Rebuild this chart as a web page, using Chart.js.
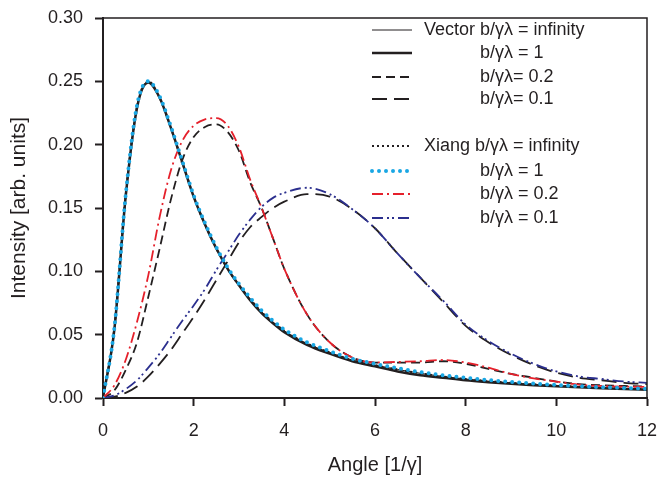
<!DOCTYPE html>
<html>
<head>
<meta charset="utf-8">
<script src="https://cdn.jsdelivr.net/npm/chart.js@4.4.0/dist/chart.umd.min.js"></script>
<style>
  html, body { margin: 0; padding: 0; background: #fff; }
  #wrap { width: 657px; height: 481px; }
</style>
</head>
<body>
<div id="wrap"><canvas id="chart" width="657" height="481"></canvas></div>
<script>
// angle in units of 1/gamma
const angle = [0, 0.25, 0.5, 0.75, 1, 1.25, 1.5, 1.75, 2, 2.25, 2.5, 2.75, 3, 3.25, 3.5, 3.75, 4,
  4.5, 5, 5.5, 6, 6.5, 7, 7.5, 8, 8.5, 9, 9.5, 10, 10.5, 11, 11.5, 12];

const vectorInf = [0, 0.055, 0.160, 0.230, 0.250, 0.237, 0.213, 0.186, 0.159, 0.137, 0.118, 0.102, 0.089, 0.078, 0.068, 0.060, 0.053,
  0.043, 0.036, 0.030, 0.026, 0.0225, 0.0195, 0.017, 0.015, 0.0133, 0.012, 0.0108, 0.0097, 0.0088, 0.008, 0.0074, 0.0068];
const vectorB1 = [0, 0.054, 0.159, 0.229, 0.249, 0.237, 0.213, 0.186, 0.159, 0.137, 0.118, 0.102, 0.089, 0.077, 0.067, 0.059, 0.052,
  0.042, 0.035, 0.029, 0.025, 0.021, 0.018, 0.016, 0.014, 0.0125, 0.0112, 0.0101, 0.0092, 0.0084, 0.0077, 0.0071, 0.0066];
const vector02 = [0, 0.006, 0.022, 0.044, 0.080, 0.118, 0.157, 0.188, 0.206, 0.214, 0.216, 0.210, 0.195, 0.170, 0.150, 0.126, 0.102,
  0.066, 0.044, 0.032, 0.028, 0.028, 0.028, 0.029, 0.027, 0.023, 0.019, 0.016, 0.013, 0.011, 0.010, 0.0095, 0.009];
const vector01 = [0, 0.001, 0.004, 0.009, 0.017, 0.027, 0.038, 0.051, 0.064, 0.078, 0.093, 0.108, 0.123, 0.135, 0.143, 0.150, 0.155,
  0.161, 0.159, 0.149, 0.134, 0.114, 0.095, 0.076, 0.057, 0.044, 0.034, 0.026, 0.020, 0.016, 0.014, 0.012, 0.011];

const xiangInf = [0, 0.055, 0.160, 0.230, 0.250, 0.237, 0.213, 0.186, 0.159, 0.137, 0.118, 0.102, 0.089, 0.078, 0.068, 0.060, 0.053,
  0.043, 0.036, 0.030, 0.026, 0.0225, 0.0195, 0.017, 0.015, 0.0134, 0.012, 0.0108, 0.0098, 0.0089, 0.0081, 0.0075, 0.0069];
const xiangB1 = [0, 0.055, 0.160, 0.231, 0.250, 0.238, 0.214, 0.187, 0.160, 0.138, 0.119, 0.103, 0.090, 0.079, 0.069, 0.061, 0.054,
  0.044, 0.037, 0.031, 0.027, 0.0235, 0.0205, 0.018, 0.016, 0.0142, 0.0127, 0.0114, 0.0103, 0.0093, 0.0085, 0.0078, 0.0072];
const xiang02 = [0, 0.010, 0.030, 0.060, 0.097, 0.143, 0.180, 0.203, 0.215, 0.220, 0.221, 0.215, 0.198, 0.172, 0.150, 0.126, 0.102,
  0.066, 0.044, 0.032, 0.028, 0.0285, 0.029, 0.030, 0.028, 0.024, 0.019, 0.0155, 0.013, 0.0105, 0.0095, 0.009, 0.0088];
const xiang01 = [0, 0.002, 0.007, 0.014, 0.024, 0.035, 0.048, 0.061, 0.073, 0.086, 0.101, 0.115, 0.129, 0.141, 0.151, 0.158, 0.162,
  0.166, 0.161, 0.149, 0.134, 0.114, 0.095, 0.077, 0.058, 0.045, 0.035, 0.027, 0.021, 0.017, 0.015, 0.013, 0.012];

const xTicks = [0, 2, 4, 6, 8, 10, 12];
const yTicks = [0, 0.05, 0.10, 0.15, 0.20, 0.25, 0.30];

const FONT = '"Liberation Sans", Arial, sans-serif';
const INK = '#231f20';

const pts = ys => ys.map((y, i) => ({x: angle[i], y: y}));

function series(label, ys, color, width, dash, order, cap) {
    return {
        label: label,
        data: pts(ys),
        borderColor: color,
        borderWidth: width,
        borderDash: dash,
        borderCapStyle: cap || 'butt',
        pointRadius: 0,
        fill: false,
        cubicInterpolationMode: 'monotone',
        order: order,
    };
}

const datasets = [
    series('Vector b/γλ = infinity', vectorInf, INK, 1, [], 4),
    series('b/γλ = 1', vectorB1, INK, 2.5, [], 3),
    series('b/γλ= 0.2', vector02, INK, 1.8, [9, 5], 3),
    series('b/γλ= 0.1', vector01, INK, 1.8, [15, 7], 3),
    series('Xiang b/γλ = infinity', xiangInf, INK, 2, [2, 3], 2),
    series('b/γλ = 1', xiangB1, '#1aa7e4', 4, [0, 7], 1, 'round'),
    series('b/γλ = 0.2', xiang02, '#e5202b', 1.8, [11, 4, 2, 4], 1),
    series('b/γλ = 0.1', xiang01, '#2b2f8e', 1.8, [11, 4, 2, 3, 2, 4], 1),
];

// legend rows sit inside the plot, top right
const legendRowY = [30, 53, 77, 99, 146, 171, 194, 218];

const boxAndLegend = {
    id: 'boxAndLegend',
    afterDatasetsDraw(chart) {
        const c = chart.ctx;
        const a = chart.chartArea;
        c.save();
        c.lineWidth = 1.5;
        c.strokeStyle = INK;
        c.setLineDash([]);
        c.beginPath();
        c.moveTo(a.left, a.top);
        c.lineTo(a.right, a.top);
        c.lineTo(a.right, a.bottom);
        c.stroke();

        chart.data.datasets.forEach((ds, i) => {
            const y = legendRowY[i];
            c.strokeStyle = ds.borderColor;
            c.lineWidth = ds.borderWidth;
            c.lineCap = ds.borderCapStyle;
            c.setLineDash(ds.borderDash);
            c.beginPath();
            c.moveTo(372, y);
            c.lineTo(412, y);
            c.stroke();
            c.setLineDash([]);
            c.fillStyle = INK;
            c.font = '18px ' + FONT;
            c.textBaseline = 'middle';
            c.fillText(ds.label, i % 4 === 0 ? 424 : 480, y);
        });
        c.restore();
    }
};

const ctx = document.getElementById('chart').getContext('2d');

new Chart(ctx, {
    type: 'line',
    data: {datasets: datasets},
    plugins: [boxAndLegend],
    options: {
        responsive: false,
        animation: false,
        layout: {padding: {left: 0, right: 10, top: 18, bottom: 0}},
        plugins: {
            legend: {display: false},
            tooltip: {enabled: false},
        },
        scales: {
            x: {
                type: 'linear',
                min: 0,
                max: 12,
                afterFit: s => { s.height = 83; s.paddingLeft = 0; s.paddingRight = 0; },
                afterBuildTicks: s => { s.ticks = xTicks.map(v => ({value: v})); },
                ticks: {
                    padding: 14,
                    color: INK,
                    font: {size: 18, family: FONT},
                },
                grid: {
                    display: true,
                    drawOnChartArea: false,
                    drawTicks: true,
                    tickLength: 8,
                    tickWidth: 2,
                    color: INK,
                },
                border: {display: true, color: INK, width: 2},
                title: {
                    display: true,
                    text: 'Angle [1/γ]',
                    color: INK,
                    font: {size: 20, family: FONT},
                    padding: {top: 0, bottom: 4},
                },
            },
            y: {
                type: 'linear',
                min: 0,
                max: 0.3,
                afterFit: s => { s.width = 103; s.paddingTop = 0; s.paddingBottom = 0; },
                afterBuildTicks: s => { s.ticks = yTicks.map(v => ({value: v})); },
                ticks: {
                    padding: 12,
                    color: INK,
                    font: {size: 18, family: FONT},
                    callback: v => Number(v).toFixed(2),
                },
                grid: {
                    display: true,
                    drawOnChartArea: false,
                    drawTicks: true,
                    tickLength: 8,
                    tickWidth: 2,
                    color: INK,
                },
                border: {display: true, color: INK, width: 2},
                title: {
                    display: true,
                    text: 'Intensity [arb. units]',
                    color: INK,
                    font: {size: 21, family: FONT},
                    padding: {top: 7, bottom: 0},
                },
            },
        },
    },
});
</script>
</body>
</html>
